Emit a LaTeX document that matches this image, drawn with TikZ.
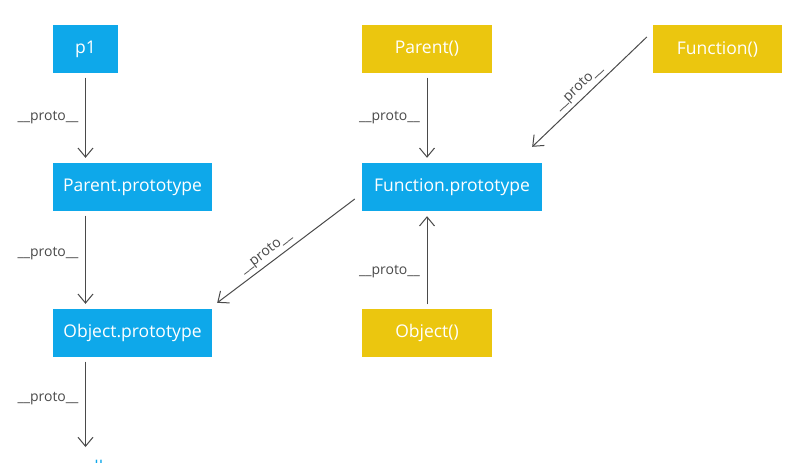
\documentclass[tikz,border=0pt]{standalone}
\usepackage{fontspec}
\setmainfont{Open Sans}
\usetikzlibrary{arrows.meta,calc}
\definecolor{boxblue}{HTML}{0EA8EA}
\definecolor{boxyellow}{HTML}{EBC60F}
\definecolor{linegray}{HTML}{4A4A4A}
\begin{document}
\begin{tikzpicture}[x=1pt,y=-1pt,
  box/.style={draw=none, minimum height=48pt, inner sep=0pt, text=white, font=\fontsize{17.5}{20}\selectfont},
  bluebox/.style={box, fill=boxblue},
  yellowbox/.style={box, fill=boxyellow},
  link/.style={draw=linegray, line width=1pt, -{Straight Barb[length=9pt,width=15pt]}, shorten <=4.5pt, shorten >=5pt},
  lbl/.style={font=\fontsize{14}{16}\selectfont, text=linegray, inner sep=1.5pt}]
\clip (0,0) rectangle (804,463);
\useasboundingbox (0,0) rectangle (804,463);
\fill[white] (0,0) rectangle (804,463);
% nodes
\node[bluebox, minimum width=65pt] (p1) at (85.5,49) {p1};
\node[bluebox, minimum width=159pt] (pp) at (132.5,187) {Parent.prototype};
\node[bluebox, minimum width=159pt] (op) at (132.5,333) {Object.prototype};
\node[yellowbox, minimum width=130pt] (par) at (427,49) {Parent()};
\node[yellowbox, minimum width=129pt] (fn) at (717.5,49) {Function()};
\node[bluebox, minimum width=180pt] (fp) at (452,187) {Function.prototype};
\node[yellowbox, minimum width=130pt] (obj) at (427,333) {Object()};
\node[text=boxblue, font=\fontsize{17.5}{20}\selectfont, inner sep=0pt, anchor=north] (nul) at (88,460.5) {null};
% connectors
\draw[link] (p1.south) -- (p1.south |- pp.north) node[lbl, left=5pt, pos=0.5] {\_\_proto\_\_};
\draw[link] (pp.south -| p1) -- (op.north -| p1) node[lbl, left=5pt, pos=0.43] {\_\_proto\_\_};
\draw[link, shorten >=13.5pt] (op.south -| p1) -- (nul.north -| p1) node[lbl, left=5pt, pos=0.4] {\_\_proto\_\_};
\draw[link] (par.south) -- (par.south |- fp.north) node[lbl, left=5pt, pos=0.49] {\_\_proto\_\_};
\draw[link] (obj.north) -- (obj.north |- fp.south) node[lbl, left=5pt, pos=0.38] {\_\_proto\_\_};
\draw[link, shorten <=0pt, shorten >=0pt] ($(fn.west)+(-6,-12)$) -- ($(fp.north east)+(-10,-16)$) node[lbl, sloped, above=2pt, pos=0.53] {\_\_proto\_\_};
\draw[link, shorten <=0pt, shorten >=0pt] ($(fp.west)+(-7,12)$) -- ($(op.north east)+(5,-6)$) node[lbl, sloped, above=2pt, pos=0.6] {\_\_proto\_\_};
\end{tikzpicture}
\end{document}
